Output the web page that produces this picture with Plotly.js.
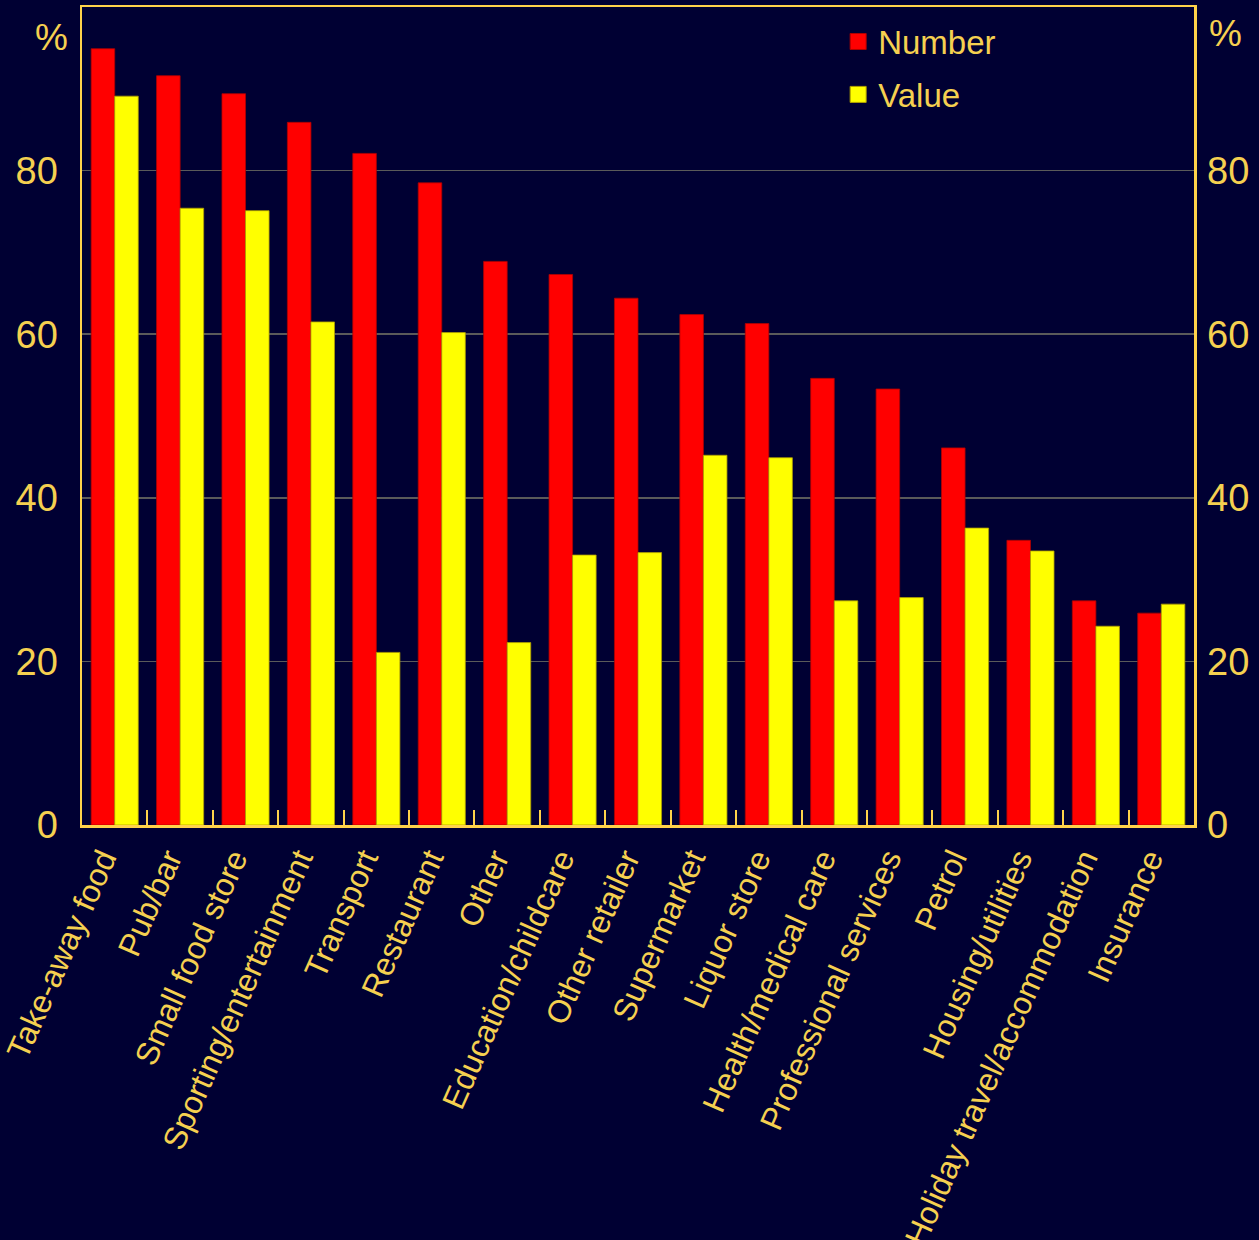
<!DOCTYPE html>
<html>
<head>
<meta charset="utf-8">
<script src="https://cdn.plot.ly/plotly-3.0.1.min.js"></script>
<style>html,body{margin:0;padding:0;background:#000033;}#chart{width:1259px;height:1240px;}</style>
</head>
<body>
<div id="chart"></div>
<script>
const categories = ["Take-away food","Pub/bar","Small food store","Sporting/entertainment","Transport","Restaurant","Other","Education/childcare","Other retailer","Supermarket","Liquor store","Health/medical care","Professional services","Petrol","Housing/utilities","Holiday travel/accommodation","Insurance"];
const numberValues = [94.9, 91.6, 89.4, 85.9, 82.1, 78.5, 68.9, 67.3, 64.4, 62.4, 61.3, 54.6, 53.3, 46.1, 34.8, 27.4, 25.9];
const valueValues = [89.1, 75.4, 75.1, 61.5, 21.1, 60.2, 22.3, 33.0, 33.3, 45.2, 44.9, 27.4, 27.8, 36.3, 33.5, 24.3, 27.0];
const yTicks = [0, 20, 40, 60, 80];
const seriesNames = ['Number', 'Value'];
const seriesColors = ['#FF0000', '#FFFF00'];

const gold = '#F5D050';
const border = '#FFD24A';
const font = 'Arial, "Liberation Sans", sans-serif';

const traces = [
  {type:'bar', name:seriesNames[0], x:categories, y:numberValues, showlegend:false,
   marker:{color:seriesColors[0], line:{color:'#B00000', width:0.8}}},
  {type:'bar', name:seriesNames[1], x:categories, y:valueValues, showlegend:false,
   marker:{color:seriesColors[1], line:{color:'#B0A000', width:0.8}}},
  {type:'scatter', x:[categories[0]], y:[0], yaxis:'y2', mode:'markers',
   marker:{opacity:0}, showlegend:false, hoverinfo:'skip'},
  {type:'scatter', name:seriesNames[0], x:[null], y:[null], mode:'markers', legendgroup:'a',
   marker:{symbol:'square', size:20, color:seriesColors[0], line:{color:'#B00000', width:1}}},
  {type:'scatter', name:seriesNames[1], x:[null], y:[null], mode:'markers', legendgroup:'b',
   marker:{symbol:'square', size:20, color:seriesColors[1], line:{color:'#B0A000', width:1}}}
];

const layout = {
  width:1259, height:1240,
  paper_bgcolor:'#000033', plot_bgcolor:'#000033',
  margin:{l:82, r:65, t:7, b:415},
  barmode:'group', bargap:0.28, bargroupgap:0,
  font:{family:font, color:gold},
  showlegend:true,
  legend:{x:0.68, y:0.992, xanchor:'left', yanchor:'top', bgcolor:'rgba(0,0,0,0)',
          font:{size:33, color:gold, family:font}, tracegroupgap:7, itemwidth:30},
  xaxis:{type:'category', range:[-0.5, categories.length - 0.5], tickangle:-66,
         tickfont:{size:32, color:gold}, ticklabelshift:-12,
         showline:true, linecolor:border, linewidth:2.5, mirror:true,
         ticks:'inside', tickson:'boundaries', ticklen:15, tickcolor:border, tickwidth:2,
         showgrid:false, automargin:false},
  yaxis:{range:[0,100], tickvals:yTicks, ticktext:yTicks.map(String),
         tickfont:{size:38, color:gold}, showline:true, linecolor:border, linewidth:2.5,
         mirror:true, ticks:'', showgrid:true, gridcolor:'#5a5a5a', gridwidth:1.5,
         zeroline:false, ticklabelstandoff:14, automargin:false},
  yaxis2:{range:[0,100], overlaying:'y', side:'right', tickvals:yTicks, ticktext:yTicks.map(String),
          tickfont:{size:38, color:gold}, showgrid:false, zeroline:false, showline:false,
          ticks:'', ticklabelstandoff:12, automargin:false},
  annotations:[
    {text:'%', xref:'paper', yref:'paper', x:-0.027, y:0.963, xanchor:'center', yanchor:'middle',
     showarrow:false, font:{size:37, color:gold}},
    {text:'%', xref:'paper', yref:'paper', x:1.028, y:0.968, xanchor:'center', yanchor:'middle',
     showarrow:false, font:{size:37, color:gold}}
  ]
};

Plotly.newPlot('chart', traces, layout, {displayModeBar:false, staticPlot:true});
</script>
</body>
</html>
